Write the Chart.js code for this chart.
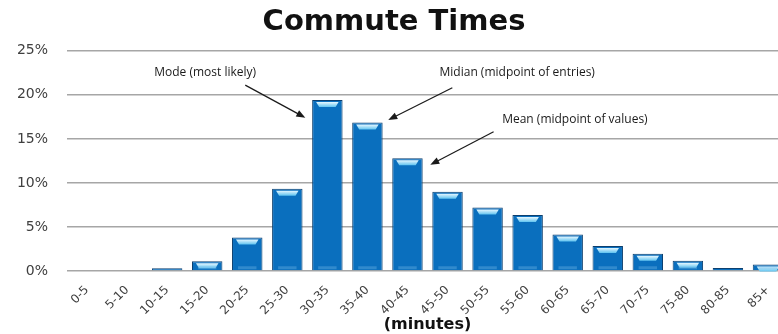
<!DOCTYPE html>
<html>
<head>
<meta charset="utf-8">
<script src="https://cdn.jsdelivr.net/npm/chart.js@4"></script>
<style>
  html, body { margin: 0; padding: 0; background: #fff; overflow: hidden; }
  #wrap { width: 788px; height: 334px; }
</style>
</head>
<body>
<div id="wrap"><canvas id="myChart"></canvas></div>
<script>
// COMMUTE TIMES DATA
const categories = ['0-5', '5-10', '10-15', '15-20', '20-25', '25-30', '30-35', '35-40', '40-45',
  '45-50', '50-55', '55-60', '60-65', '65-70', '70-75', '75-80', '80-85', '85+'];
const shares = [0, 0, 0.3, 1.1, 3.8, 9.35, 19.4, 16.85, 12.8, 9.0, 7.2, 6.35, 4.15, 2.85, 1.95, 1.15, 0.35, 0.75];
const yTicks = [0, 5, 10, 15, 20, 25];

// notes: text anchor + arrow tail/tip, in (category index, percent)
const noteTexts = ['Mode (most likely)', 'Midian (midpoint of entries)', 'Mean (midpoint of values)'];
const noteAt = [[2.95, 22.5], [10.74, 22.5], [12.18, 17.15]];
const arrowFrom = [[3.95, 21.1], [9.12, 20.8], [10.15, 15.8]];
const arrowTo = [[5.45, 17.4], [7.52, 17.15], [8.57, 12.05]];

const barShine = {
  id: 'barShine',
  afterDatasetsDraw(chart) {
    const ctx = chart.ctx;
    chart.getDatasetMeta(0).data.forEach((bar) => {
      const h = bar.base - bar.y;
      if (h < 5) return;
      const w = bar.width;
      const x0 = bar.x - w / 2 + 4;
      const x1 = bar.x + w / 2 - 4;
      const top = bar.y + 2;
      const g = ctx.createLinearGradient(0, top, 0, top + 5);
      g.addColorStop(0, '#e6f7ff');
      g.addColorStop(1, '#5fc3f0');
      ctx.save();
      ctx.fillStyle = g;
      ctx.beginPath();
      ctx.moveTo(x0, top);
      ctx.lineTo(x1, top);
      ctx.lineTo(x1 - 3, top + 5);
      ctx.lineTo(x0 + 3, top + 5);
      ctx.closePath();
      ctx.fill();
      // soft bottom shade
      ctx.fillStyle = 'rgba(120,190,235,0.35)';
      ctx.fillRect(x0 + 2, bar.base - 4, x1 - x0 - 4, 3);
      ctx.restore();
    });
  }
};

const notes = {
  id: 'notes',
  afterDraw(chart) {
    const ctx = chart.ctx;
    const xs = chart.scales.x;
    const ys = chart.scales.y;
    ctx.save();
    ctx.font = '12px "Open Sans"';
    ctx.fillStyle = '#1a1a1a';
    ctx.textAlign = 'center';
    ctx.textBaseline = 'middle';
    noteTexts.forEach((t, i) => {
      ctx.fillText(t, xs.getPixelForValue(noteAt[i][0]), ys.getPixelForValue(noteAt[i][1]));
      const x1 = xs.getPixelForValue(arrowFrom[i][0]);
      const y1 = ys.getPixelForValue(arrowFrom[i][1]);
      const x2 = xs.getPixelForValue(arrowTo[i][0]);
      const y2 = ys.getPixelForValue(arrowTo[i][1]);
      const a = Math.atan2(y2 - y1, x2 - x1);
      ctx.strokeStyle = '#1a1a1a';
      ctx.lineWidth = 1.2;
      ctx.beginPath();
      ctx.moveTo(x1, y1);
      ctx.lineTo(x2 - 6 * Math.cos(a), y2 - 6 * Math.sin(a));
      ctx.stroke();
      ctx.beginPath();
      ctx.moveTo(x2, y2);
      ctx.lineTo(x2 - 9 * Math.cos(a) + 3.5 * Math.sin(a), y2 - 9 * Math.sin(a) - 3.5 * Math.cos(a));
      ctx.lineTo(x2 - 9 * Math.cos(a) - 3.5 * Math.sin(a), y2 - 9 * Math.sin(a) + 3.5 * Math.cos(a));
      ctx.closePath();
      ctx.fillStyle = '#1a1a1a';
      ctx.fill();
    });
    ctx.restore();
  }
};

const ctx = document.getElementById('myChart');

const barchart = new Chart(ctx, {
  type: 'bar',
  data: {
    labels: categories,
    datasets: [{
      label: 'Share',
      data: shares,
      backgroundColor: (c) => {
        const area = c.chart.chartArea;
        const el = c.element;
        if (!area || !el || !el.width) return '#0a6fbe';
        const g = c.chart.ctx.createLinearGradient(el.x - el.width / 2, 0, el.x + el.width / 2, 0);
        g.addColorStop(0, '#0a4f8c');
        g.addColorStop(0.15, '#0b72c2');
        g.addColorStop(0.85, '#0b72c2');
        g.addColorStop(1, '#0a4a84');
        return g;
      },
      borderColor: '#0d3f6e',
      borderWidth: 1,
      borderSkipped: 'bottom',
      barPercentage: 0.76,
      categoryPercentage: 1
    }]
  },
  options: {
    responsive: true,
    maintainAspectRatio: false,
    animation: false,
    layout: { padding: { left: 0, right: 0, top: 0, bottom: 0 } },
    plugins: {
      legend: { display: false },
      tooltip: { enabled: false },
      title: {
        display: true,
        text: 'Commute Times',
        color: '#111',
        font: { family: 'DejaVu Sans', size: 29, weight: 'bold' },
        padding: { top: 5, bottom: 11 }
      }
    },
    scales: {
      x: {
        grid: { display: false },
        border: { display: false },
        ticks: {
          color: '#404040',
          font: { family: 'DejaVu Sans', size: 12 },
          minRotation: 45,
          maxRotation: 45,
          padding: 4,
          autoSkip: false
        },
        title: {
          display: true,
          text: '(minutes)',
          color: '#111',
          font: { family: 'DejaVu Sans', size: 16, weight: 'bold' },
          padding: { top: 0, bottom: 0 }
        },
        afterFit: (scale) => { scale.height = 63; }
      },
      y: {
        min: 0,
        max: 25,
        afterBuildTicks: (scale) => { scale.ticks = yTicks.map((v) => ({ value: v })); },
        grid: { color: '#a6a6a6', lineWidth: 1.5, drawTicks: false },
        border: { display: false },
        ticks: {
          color: '#404040',
          font: { family: 'DejaVu Sans', size: 14 },
          padding: 19,
          callback: (v) => v + '%'
        },
        afterFit: (scale) => { scale.width = 67; }
      }
    }
  },
  plugins: [barShine, notes]
});
</script>
</body>
</html>
